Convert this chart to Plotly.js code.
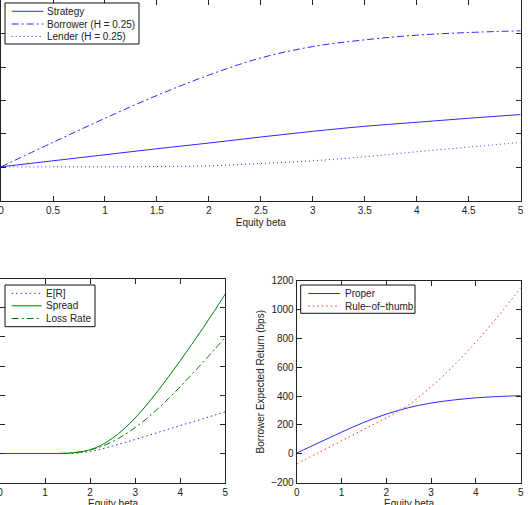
<!DOCTYPE html>
<html>
<head>
<meta charset="utf-8">
<script src="https://cdn.plot.ly/plotly-3.0.1.min.js"></script>
<style>html,body{margin:0;padding:0;background:#fff;}#chart{width:528px;height:505px;}</style>
</head>
<body>
<div id="chart"></div>
<script>
// Top panel
var betaTop = [0, 0.5, 1, 1.5, 2, 2.5, 3, 3.5, 4, 4.5, 5];
var strategy = [1.02, 1.20, 1.38, 1.56, 1.73, 1.91, 2.08, 2.23, 2.35, 2.47, 2.58];
var borrower = [1.02, 1.75, 2.47, 3.15, 3.76, 4.27, 4.61, 4.81, 4.95, 5.03, 5.08];
var lender = [1.02, 1.02, 1.02, 1.03, 1.05, 1.12, 1.20, 1.32, 1.47, 1.61, 1.75];
var topLabels = ['Strategy', 'Borrower (H = 0.25)', 'Lender (H = 0.25)'];

// Bottom-left panel
var betaBL = [0, 0.25, 0.5, 0.75, 1, 1.25, 1.5, 1.75, 2, 2.25, 2.5, 2.75, 3, 3.25, 3.5, 3.75, 4, 4.25, 4.5, 4.75, 5];
var expR = [1, 1, 1, 1, 1, 1, 1, 1.02, 1.07, 1.15, 1.26, 1.37, 1.48, 1.60, 1.72, 1.84, 1.96, 2.07, 2.19, 2.31, 2.43];
var spread = [1, 1, 1, 1, 1, 1, 1.01, 1.05, 1.13, 1.29, 1.53, 1.84, 2.22, 2.66, 3.14, 3.65, 4.18, 4.73, 5.29, 5.87, 6.47];
var lossRate = [1, 1, 1, 1, 1, 1, 1.01, 1.05, 1.12, 1.24, 1.41, 1.63, 1.89, 2.19, 2.53, 2.90, 3.29, 3.70, 4.12, 4.55, 4.98];
var blLabels = ['E[R]', 'Spread', 'Loss Rate'];

// Bottom-right panel
var betaBR = [0, 0.5, 1, 1.5, 2, 2.5, 3, 3.5, 4, 4.5, 5];
var proper = [5, 78, 150, 218, 275, 320, 352, 373, 388, 397, 403];
var ruleOfThumb = [-70, 10, 90, 170, 250, 340, 465, 610, 775, 955, 1150];
var brLabels = ['Proper', 'Rule\u2212of\u2212thumb'];

var FONT = 'Liberation Sans, Arial, Helvetica, sans-serif';
var TXT = '#222';
var BLUE = '#2a2aff';
var GREEN = '#008000';
var RED = '#ff2a2a';
var DASHDOT = '7px,3px,2px,3px';
var DOT = '1.5px,3px';

var traces = [
  {x: betaTop, y: strategy, name: topLabels[0], mode: 'lines', line: {color: BLUE, width: 1, shape: 'spline'}, xaxis: 'x', yaxis: 'y'},
  {x: betaTop, y: borrower, name: topLabels[1], mode: 'lines', line: {color: BLUE, width: 1, dash: DASHDOT, shape: 'spline'}, xaxis: 'x', yaxis: 'y'},
  {x: betaTop, y: lender, name: topLabels[2], mode: 'lines', line: {color: BLUE, width: 1, dash: '1px,3px', shape: 'spline'}, xaxis: 'x', yaxis: 'y'},
  {x: betaBL, y: expR, name: blLabels[0], mode: 'lines', line: {color: BLUE, width: 1, dash: DOT, shape: 'spline'}, xaxis: 'x2', yaxis: 'y2'},
  {x: betaBL, y: spread, name: blLabels[1], mode: 'lines', line: {color: GREEN, width: 1, shape: 'spline'}, xaxis: 'x2', yaxis: 'y2'},
  {x: betaBL, y: lossRate, name: blLabels[2], mode: 'lines', line: {color: GREEN, width: 1, dash: DASHDOT, shape: 'spline'}, xaxis: 'x2', yaxis: 'y2'},
  {x: betaBR, y: proper, name: brLabels[0], mode: 'lines', line: {color: BLUE, width: 1, shape: 'spline'}, xaxis: 'x3', yaxis: 'y3'},
  {x: betaBR, y: ruleOfThumb, name: brLabels[1], mode: 'lines', line: {color: RED, width: 1, dash: DOT, shape: 'spline'}, xaxis: 'x3', yaxis: 'y3'}
];

function ax(extra) {
  var base = {
    showline: true, mirror: 'ticks', linecolor: '#222', linewidth: 1,
    ticks: 'inside', ticklen: 5, tickcolor: '#222', tickwidth: 1,
    showgrid: false, zeroline: false, ticklabeloverflow: 'allow',
    tickfont: {family: FONT, size: 10, color: TXT}
  };
  for (var k in extra) base[k] = extra[k];
  return base;
}

// pixel helpers for legend decoration (paper coordinates)
var W = 528, H = 505;
function px(v) { return v / W; }
function py(v) { return 1 - v / H; }

var shapes = [];
var annotations = [];
function addLegend(box, rowsY, lineX0, lineX1, textX, labels, styles) {
  shapes.push({type: 'rect', xref: 'paper', yref: 'paper', layer: 'above',
    x0: px(box[0]), x1: px(box[2]), y0: py(box[1]), y1: py(box[3]),
    line: {color: '#111', width: 1}, fillcolor: '#fff'});
  for (var i = 0; i < labels.length; i++) {
    shapes.push({type: 'line', xref: 'paper', yref: 'paper', layer: 'above',
      x0: px(lineX0), x1: px(lineX1), y0: py(rowsY[i]), y1: py(rowsY[i]),
      line: styles[i]});
    annotations.push({xref: 'paper', yref: 'paper', x: px(textX), y: py(rowsY[i]),
      xanchor: 'left', yanchor: 'middle', showarrow: false, text: labels[i],
      borderpad: 0, font: {family: FONT, size: 10, color: TXT}});
  }
}
function styleOf(t) { return {color: t.line.color, width: 1, dash: t.line.dash || 'solid'}; }
addLegend([5, 3, 139, 44], [11.3, 24, 36.5], 11.7, 43.3, 46.3, topLabels, [styleOf(traces[0]), styleOf(traces[1]), styleOf(traces[2])]);
addLegend([5, 285, 95, 326.7], [293.3, 305.8, 318.5], 11.7, 41.7, 45.3, blLabels, [styleOf(traces[3]), styleOf(traces[4]), styleOf(traces[5])]);
addLegend([300.7, 285, 415, 313.3], [293.5, 306], 308.3, 340, 344, brLabels, [styleOf(traces[6]), styleOf(traces[7])]);

// bottom x-axis titles (partly below the picture edge, as in the reference)
annotations.push({xref: 'paper', yref: 'paper', x: px(112.7), y: py(503.5), xanchor: 'center', yanchor: 'middle',
  showarrow: false, text: 'Equity beta', borderpad: 0, font: {family: FONT, size: 10, color: TXT}});
annotations.push({xref: 'paper', yref: 'paper', x: px(408.7), y: py(503.5), xanchor: 'center', yanchor: 'middle',
  showarrow: false, text: 'Equity beta', borderpad: 0, font: {family: FONT, size: 10, color: TXT}});

var layout = {
  width: W, height: H,
  margin: {l: 0, r: 0, t: 0, b: 0},
  paper_bgcolor: '#fff', plot_bgcolor: '#fff',
  showlegend: false,
  xaxis: ax({domain: [0.002, 0.986], range: [0, 5], dtick: 0.5, tick0: 0, anchor: 'y',
    title: {text: 'Equity beta', font: {family: FONT, size: 10, color: TXT}, standoff: 4}}),
  yaxis: ax({domain: [0.602, 1.0], range: [0, 6], dtick: 1, anchor: 'x', showticklabels: false}),
  xaxis2: ax({domain: [0.0, 0.4267], range: [0, 5], dtick: 1, anchor: 'y2'}),
  yaxis2: ax({domain: [0.0442, 0.4485], range: [0, 7], dtick: 1, anchor: 'x2', showticklabels: false}),
  xaxis3: ax({domain: [0.5619, 0.9862], range: [0, 5], dtick: 1, anchor: 'y3'}),
  yaxis3: ax({domain: [0.0442, 0.4442], range: [-200, 1200], dtick: 200, anchor: 'x3',
    title: {text: 'Borrower Expected Return (bps)', font: {family: FONT, size: 10, color: TXT}, standoff: 4}}),
  shapes: shapes,
  annotations: annotations
};

Plotly.newPlot('chart', traces, layout, {displayModeBar: false, staticPlot: true});
</script>
</body>
</html>
